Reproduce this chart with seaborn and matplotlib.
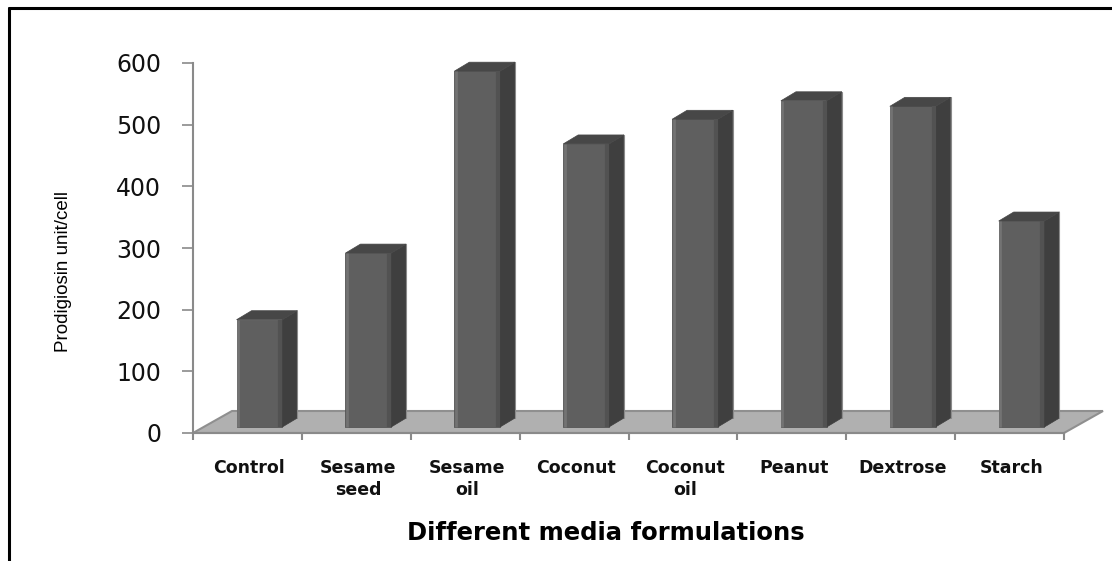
import numpy as np
import pandas as pd
import matplotlib
matplotlib.use("Agg")
import matplotlib.pyplot as plt
from matplotlib.patches import Polygon
from matplotlib.lines import Line2D
import seaborn as sns

# values
media = ["Control", "Sesame\nseed", "Sesame\noil", "Coconut", "Coconut\noil", "Peanut", "Dextrose", "Starch"]
prodigiosin = [174, 282, 577, 459, 499, 529, 520, 334]
y_ticks = [0, 100, 200, 300, 400, 500, 600]

df = pd.DataFrame({"media": media, "prodigiosin": prodigiosin})

sns.set_style("white")
plt.rcParams['font.family'] = ['DejaVu Sans']

fig = plt.figure(figsize=(11.12, 5.61), dpi=100)
W, H = 1112, 561
ax = fig.add_axes([193 / W, 1 - 433 / H, 871 / W, 370 / H])

sns.barplot(data=df, x="media", y="prodigiosin", color="#5f5f5f", saturation=1,
            width=0.42, ax=ax, zorder=3)

ax.set_xlim(-0.5, 7.5)
ax.set_ylim(0, 600)

# 3D look: sizes of the fake depth, in data units
px_x = 1 / (871 / 8)
px_y = 600 / 370
shift_x, shift_y = 12 * px_x, 6 * px_y
depth_x, depth_y = 15 * px_x, 9 * px_y
floor_x, floor_y = 39 * px_x, 22 * px_y

# floor
floor = Polygon([(-0.5, 0), (-0.5 + floor_x, floor_y), (7.5 + floor_x, floor_y), (7.5, 0)],
                closed=True, facecolor="#b0b0b0", edgecolor="#8f8f8f", lw=1.5,
                clip_on=False, zorder=1)

# move the front faces and add side and top faces
for bar in list(ax.patches):
    bar.set_x(bar.get_x() + shift_x)
    bar.set_y(shift_y)
    bar.set_clip_on(False)
    bar.set_edgecolor("#555555")
    bar.set_linewidth(0.6)
    x0 = bar.get_x()
    x1 = x0 + bar.get_width()
    y0 = shift_y
    y1 = y0 + bar.get_height()
    ax.add_patch(Polygon([(x1, y0), (x1 + depth_x, y0 + depth_y), (x1 + depth_x, y1 + depth_y), (x1, y1)],
                         closed=True, facecolor="#3f3f3f", edgecolor="#3f3f3f", lw=0.5,
                         clip_on=False, zorder=3))
    ax.add_patch(Polygon([(x0, y1), (x0 + depth_x, y1 + depth_y), (x1 + depth_x, y1 + depth_y), (x1, y1)],
                         closed=True, facecolor="#474747", edgecolor="#474747", lw=0.5,
                         clip_on=False, zorder=3))
    # light and dark rims like the soft shading in the picture
    ax.plot([x0 + 1.5 * px_x] * 2, [y0, y1], color="#737373", lw=2, zorder=4, clip_on=False,
            solid_capstyle="butt")
    ax.plot([x1 - 2 * px_x] * 2, [y0, y1], color="#525252", lw=3, zorder=4, clip_on=False,
            solid_capstyle="butt")
    ax.plot([x1 + depth_x] * 2, [y0 + depth_y, y1 + depth_y], color="#8a8a8a", lw=0.8, zorder=4,
            clip_on=False)

ax.add_patch(floor)

# axes
sns.despine(ax=ax, top=True, right=True, bottom=False, left=False)
for side in ["left", "bottom"]:
    ax.spines[side].set_color("#8a8a8a")
    ax.spines[side].set_linewidth(1.5)
    ax.spines[side].set_zorder(2)

ax.set_yticks(y_ticks)
ax.tick_params(axis="y", left=True, length=8, width=1.2, color="#8a8a8a", labelsize=17,
               labelcolor="#111111", pad=15)
ax.set_xticks(np.arange(-0.5, 8, 1), minor=False)
ax.set_xticklabels([])
ax.tick_params(axis="x", bottom=True, length=5, width=1.5, color="#8a8a8a")

ax.set_xlabel("")
ax.set_ylabel("")

# category labels sit below the ticks
for i, name in enumerate(media):
    ax.annotate(name, xy=(i, 0), xycoords=("data", "axes fraction"), xytext=(2, -26),
                textcoords="offset pixels", ha="center", va="top", fontsize=12.5,
                fontweight="bold", linespacing=1.3, color="#111111")

fig.text(63 / W, 1 - 272 / H, "Prodigiosin unit/cell", rotation=90, ha="center", va="center",
         fontsize=13.5, family="Liberation Sans", color="black")
fig.text(606 / W, 1 - 533 / H, "Different media formulations", ha="center", va="center",
         fontsize=17.5, fontweight="bold", color="black")

# black frame at top and left
fig.add_artist(Line2D([9 / W, 9 / W], [0, 1 - 8 / H], color="black", lw=2.2))
fig.add_artist(Line2D([9 / W, 1], [1 - 8 / H, 1 - 8 / H], color="black", lw=2.2))

fig.savefig("out.png", dpi=100)
